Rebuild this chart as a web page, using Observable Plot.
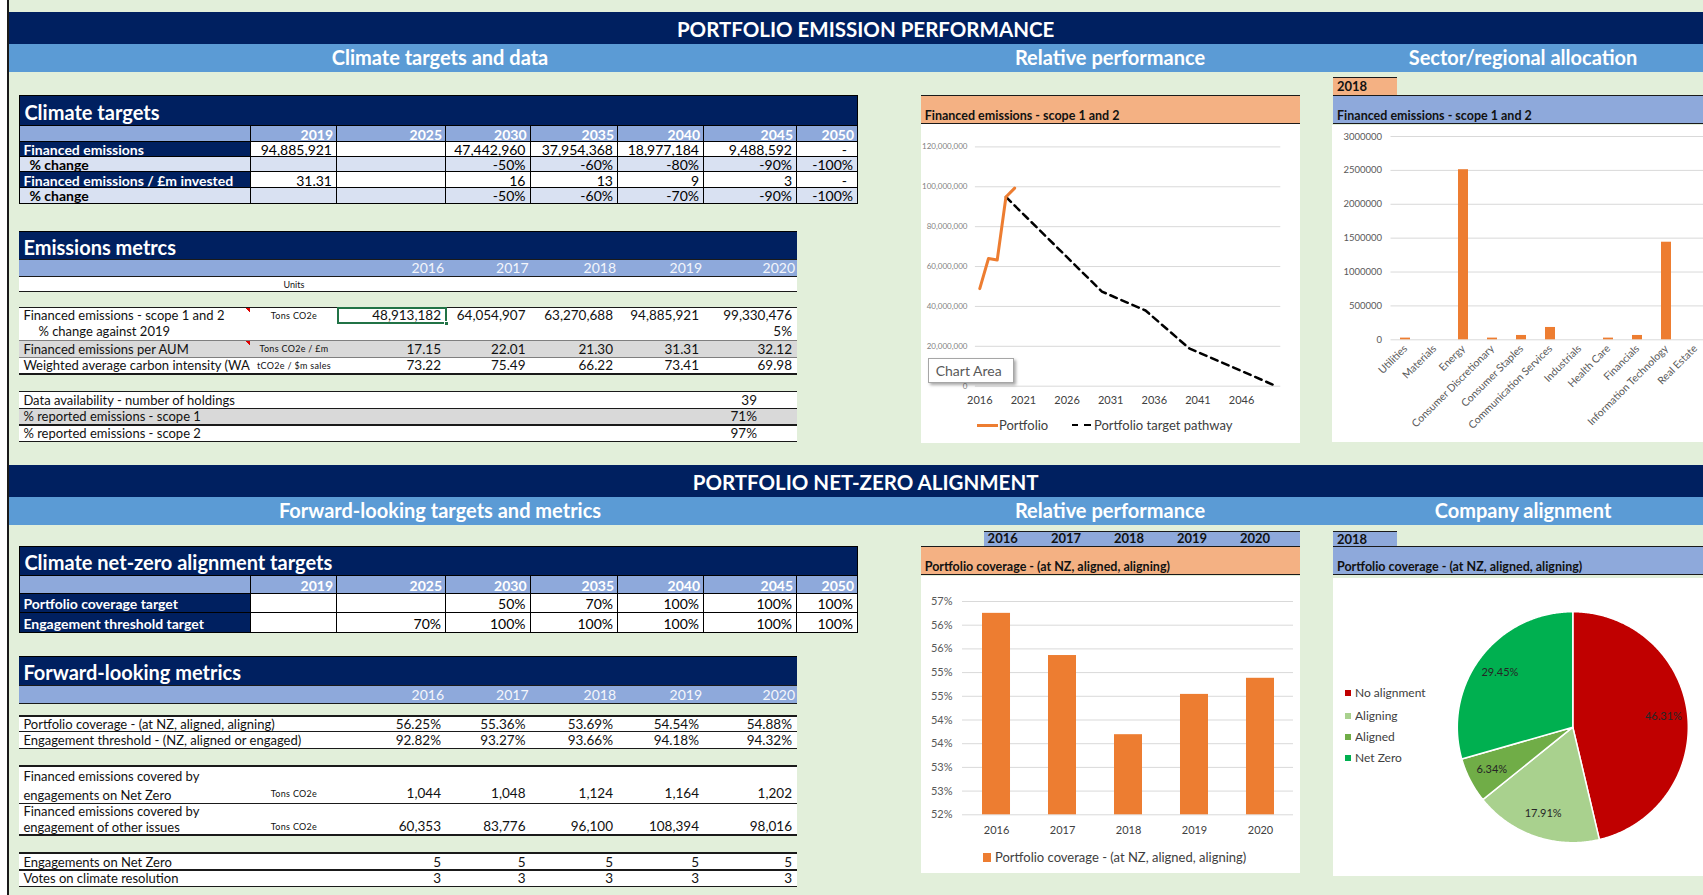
<!DOCTYPE html>
<html><head><meta charset="utf-8">
<script src="https://cdn.jsdelivr.net/npm/d3@7"></script>
<script src="https://cdn.jsdelivr.net/npm/@observablehq/plot@0.6"></script>
<style>
html,body{margin:0;padding:0;}
body{width:1703px;height:895px;overflow:hidden;background:#e2efda;position:relative;font-family:Lato,"Open Sans",sans-serif;}
.cell{position:absolute;box-sizing:border-box;white-space:pre;overflow:hidden;}
.chart{position:absolute;}
.chart svg{display:block;overflow:visible;max-width:none !important;}
</style></head><body>
<script>
// ---------------- DATA ----------------
const targetYears = ["2019","2025","2030","2035","2040","2045","2050"];
const targetFinanced = ["94,885,921","","47,442,960","37,954,368","18,977,184","9,488,592","-"];
const targetFinancedChange = ["","","-50%","-60%","-80%","-90%","-100%"];
const targetIntensity = ["31.31","","16","13","9","3","-"];
const targetIntensityChange = ["","","-50%","-60%","-70%","-90%","-100%"];

const metricYears = ["2016","2017","2018","2019","2020"];
const emFinanced = ["48,913,182","64,054,907","63,270,688","94,885,921","99,330,476"];
const emChange = ["","","","","5%"];
const emPerAUM = ["17.15","22.01","21.30","31.31","32.12"];
const emWACI = ["73.22","75.49","66.22","73.41","69.98"];
const dataAvailability = ["39","71%","97%"];

const nzCoverageTarget = ["","","50%","70%","100%","100%","100%"];
const nzEngagementTarget = ["","70%","100%","100%","100%","100%","100%"];

const flCoverage = ["56.25%","55.36%","53.69%","54.54%","54.88%"];
const flEngagement = ["92.82%","93.27%","93.66%","94.18%","94.32%"];
const flCoveredNZ = ["1,044","1,048","1,124","1,164","1,202"];
const flCoveredOther = ["60,353","83,776","96,100","108,394","98,016"];
const flEngagementsNZ = ["5","5","5","5","5"];
const flVotes = ["3","3","3","3","3"];

// line chart
const portfolioYears = [2016,2017,2018,2019,2020];
const portfolioEmissions = [48913182,64054907,63270688,94885921,99330476];
const pathwayYears = [2019,2030,2035,2040,2045,2050];
const pathwayEmissions = [94885921,47442960,37954368,18977184,9488592,0];
const lineXTicks = [2016,2021,2026,2031,2036,2041,2046];
const lineYTicks = [0,20000000,40000000,60000000,80000000,100000000,120000000];

// sector chart
const sectors = ["Utilities","Materials","Energy","Consumer Discretionary","Consumer Staples","Communication Services","Industrials","Health Care","Financials","Information Technology","Real Estate"];
const sectorEmissions = [25000,0,2510000,25000,64000,182000,0,25000,64000,1440000,0];
const sectorYTicks = [0,500000,1000000,1500000,2000000,2500000,3000000];

// coverage chart
const coverageYears = ["2016","2017","2018","2019","2020"];
const coverageValues = [56.25,55.36,53.69,54.54,54.88];
const coverageYTicks = [52,52.5,53,53.5,54,54.5,55,55.5,56,56.5];
const coverageBase = 52;

// pie
const alignNames = ["No alignment","Aligning","Aligned","Net Zero"];
const alignValues = [46.31,17.91,6.34,29.45];
const alignColors = ["#c00000","#a9d18e","#70ad47","#00b050"];

// ---------------- HELPERS ----------------
const NAVY="#002060", LBLUE="#5b9bd5", HBLUE="#8ea9db", LAV="#d9e1f2", ORANGEH="#f4b183", ORANGE="#ed7d31", GREY="#d9d9d9";
function box(x,y,w,h,style={},text){
  const d=document.createElement("div"); d.className="cell";
  Object.assign(d.style,{left:x+"px",top:y+"px",width:w+"px",height:h+"px"});
  for (const k in style) if (style[k]!=null) d.style[k]=style[k];
  if (text!=null) d.textContent=text;
  document.body.appendChild(d); return d;
}
function hline(x0,x1,y,t=1,c="#000"){ return box(x0,y-t/2,x1-x0,t,{background:c}); }

// left strip
box(0,0,7,895,{background:"#fff"});
box(6.5,0,2,895,{background:"#1a1a1a"});

// banners
function banner(top, title, subs){
  box(8.5,top,1703-8.5,32,{background:NAVY});
  box(865.6-300,top,600,32,{color:"#fff",fontWeight:700,fontSize:"20.5px",lineHeight:"34px",textAlign:"center",overflow:"visible"},title);
  box(8.5,top+32,1703-8.5,27.5,{background:LBLUE});
  subs.forEach(([t,cx])=>box(cx-175,top+32,350,27.5,{color:"#fff",fontWeight:700,fontSize:"20px",lineHeight:"27.5px",textAlign:"center",overflow:"visible"},t));
}
banner(12.3,"PORTFOLIO EMISSION PERFORMANCE",[["Climate targets and data",440],["Relative performance",1110],["Sector/regional allocation",1523]]);
banner(465,"PORTFOLIO NET-ZERO ALIGNMENT",[["Forward-looking targets and metrics",440],["Relative performance",1110],["Company alignment",1523]]);

// ---------------- TARGET TABLES ----------------
const tCols = [19.4,251,337,446,530.5,618,704,797,858];
function targetTable(top,title,titleH,headH,rows){
  const L=tCols[0], R=tCols[tCols.length-1];
  box(L,top,R-L,titleH,{background:NAVY,color:"#fff",fontWeight:700,fontSize:"20px",lineHeight:(titleH+2)+"px",paddingLeft:"4px",border:"1px solid #000",borderBottom:"none"},title);
  let y=top+titleH;
  for(let i=0;i<tCols.length-1;i++){
    box(tCols[i],y,tCols[i+1]-tCols[i],headH,{background:HBLUE,color:"#fff",fontWeight:700,fontSize:"14px",lineHeight:(headH+1)+"px",textAlign:"right",paddingRight:"3px",borderRight:"1px solid #000",borderTop:"1px solid #000",borderBottom:"1px solid #000",borderLeft:i===0?"1px solid #000":null},i===0?"":targetYears[i-1]);
  }
  y+=headH;
  rows.forEach(r=>{
    const navy=r.kind==="navy";
    box(tCols[0],y,tCols[1]-tCols[0],r.h,{background:navy?NAVY:LAV,color:navy?"#fff":"#000",fontWeight:700,fontSize:"14px",lineHeight:(r.h+1)+"px",paddingLeft:navy?"3px":"9px",borderLeft:"1px solid #000",borderRight:"1px solid #000",borderBottom:"1px solid #000"},r.label);
    r.values.forEach((v,i)=>{
      box(tCols[i+1],y,tCols[i+2]-tCols[i+1],r.h,{background:r.bg||"#fff",color:"#000",fontSize:"14px",lineHeight:(r.h+1)+"px",textAlign:"right",paddingRight:(v==="-"?"10px":"4px"),borderRight:"1px solid #000",borderBottom:"1px solid #000"},v);
    });
    y+=r.h;
  });
}
targetTable(95,"Climate targets",30,16.7,[
  {kind:"navy",label:"Financed emissions",values:targetFinanced,h:15},
  {kind:"lav",label:"% change",values:targetFinancedChange,h:15,bg:LAV},
  {kind:"navy",label:"Financed emissions / £m invested",values:targetIntensity,h:16.6},
  {kind:"lav",label:"% change",values:targetIntensityChange,h:15.7,bg:LAV}
]);
targetTable(546,"Climate net-zero alignment targets",29,19,[
  {kind:"navy",label:"Portfolio coverage target",values:nzCoverageTarget,h:18.7},
  {kind:"navy",label:"Engagement threshold target",values:nzEngagementTarget,h:20}
]);

// ---------------- METRICS TABLES ----------------
const mCols=[19.4,251,337,446,530.5,618,704,797];
const ML=mCols[0], MR=mCols[mCols.length-1];
function metricsHead(top,title,titleH,headH){
  box(ML,top,MR-ML,titleH,{background:NAVY,color:"#fff",fontWeight:700,fontSize:"20px",lineHeight:(titleH+2)+"px",paddingLeft:"4px",borderTop:"1px solid #000"},title);
  box(ML,top+titleH,MR-ML,headH,{background:HBLUE,borderTop:"1px solid #1a1a1a",borderBottom:"1.5px solid #1a1a1a"});
  metricYears.forEach((yr,i)=>box(mCols[i+2],top+titleH,mCols[i+3]-mCols[i+2],headH,{color:"#f4f6fb",fontSize:"14px",lineHeight:(headH+1)+"px",textAlign:"right",paddingRight:"2px"},yr));
  return top+titleH+headH;
}
function metricRow(y,h,r){
  box(ML,y,MR-ML,h,{background:r.bg||"#fff"});
  const labW = (r.unit ? mCols[1] : mCols[2]) - ML;
  if(r.twoLine){
    box(ML,y,labW,h,{fontSize:"13px",lineHeight:(h/2)+"px",paddingLeft:"4px",color:"#111",paddingTop:"1px"},r.label);
  } else {
    box(ML,y,labW,h,{fontSize:"13px",lineHeight:(h+1)+"px",paddingLeft:(r.indent||4)+"px",color:"#111"},r.label);
  }
  const lh = r.twoLine ? (h*1.5)+"px" : (h+1)+"px";
  if(r.unit) box(mCols[1],y,mCols[2]-mCols[1],h,{fontSize:"9px",letterSpacing:"0.3px",lineHeight:lh,textAlign:"center",color:"#111"},r.unit);
  (r.values||[]).forEach((v,i)=>box(mCols[i+2],y,mCols[i+3]-mCols[i+2],h,{fontSize:"13.5px",lineHeight:lh,textAlign:"right",paddingRight:(r.pad||5)+"px",color:"#111"},v));
}
// Emissions metrics
let y0 = metricsHead(230.7,"Emissions metrcs",28.6,17.4);
box(ML,y0,MR-ML,15,{background:"#fff"});
box(mCols[1],y0,mCols[2]-mCols[1],15,{fontSize:"9px",lineHeight:"16px",textAlign:"center",color:"#111"},"Units");
hline(ML,MR,291.7,1.5,"#1a1a1a");
metricRow(307.3,16,{label:"Financed emissions - scope 1 and 2",unit:"Tons CO2e",values:emFinanced});
metricRow(323.3,16.7,{label:"% change against 2019",indent:19,values:emChange});
metricRow(340,17.3,{label:"Financed emissions per AUM",unit:"Tons CO2e / £m",values:emPerAUM,bg:GREY});
metricRow(357.3,16.7,{label:"Weighted average carbon intensity (WA",unit:"tCO2e / $m sales",values:emWACI});
hline(ML,MR,307.3,1.5,"#1a1a1a"); hline(ML,MR,340,1,"#7f7f7f"); hline(ML,MR,357.3,1,"#7f7f7f"); hline(ML,MR,374,1.5,"#1a1a1a");
// selected cell & comment markers
box(337,307,110,17,{border:"2px solid #217346"});
box(444,321,5,5,{background:"#217346",border:"1px solid #fff"});
[[246,308],[246,341]].forEach(([x,y])=>box(x,y,4,4,{background:"linear-gradient(45deg,transparent 50%,#e00000 50%)"}));
// Data availability
const daLabels=["Data availability - number of holdings","% reported emissions - scope 1","% reported emissions - scope 2"];
[[391.7,16.6,"#fff"],[408.3,16.7,GREY],[425,16.7,"#fff"]].forEach(([y,h,bg],i)=>{
  metricRow(y,h,{label:daLabels[i],bg,values:["","","","",dataAvailability[i]],pad:40});
});
[391.7,408.3,425,441.7].forEach(y=>hline(ML,MR,y,1.3,"#1a1a1a"));

// Forward-looking metrics
y0 = metricsHead(656,"Forward-looking metrics",29,19.3);
metricRow(716,15.7,{label:"Portfolio coverage - (at NZ, aligned, aligning)",values:flCoverage});
metricRow(731.7,16.6,{label:"Engagement threshold - (NZ, aligned or engaged)",values:flEngagement});
metricRow(766,37.3,{twoLine:true,label:"Financed emissions covered by\nengagements on Net Zero",unit:"Tons CO2e",values:flCoveredNZ});
metricRow(803.3,31.7,{twoLine:true,label:"Financed emissions covered by\nengagement of other issues",unit:"Tons CO2e",values:flCoveredOther});
metricRow(853,17,{label:"Engagements on Net Zero",values:flEngagementsNZ});
metricRow(870,16.7,{label:"Votes on climate resolution",values:flVotes});
[716,731.7,748.3,766,803.3,835,853,870,886.7].forEach(y=>hline(ML,MR,y,1.3,"#1a1a1a"));

// ---------------- PANELS ----------------
function header(x,y,w,h,bg,text){
  box(x,y,w,h,{background:bg,borderTop:"1.5px solid #1a1a1a",borderBottom:"1.5px solid #1a1a1a",fontWeight:700,fontSize:"12.5px",color:"#111",lineHeight:(h*1.35)+"px",paddingLeft:"4px"},text);
}
// line chart panel
header(920.7,95,379.3,29.3,ORANGEH,"Financed emissions - scope 1 and 2");
box(920.7,124.3,379.3,319,{background:"#fff"});
// sector panel
box(1333,77.3,64,17.7,{background:ORANGEH,borderTop:"1.5px solid #1a1a1a",fontWeight:700,fontSize:"13px",lineHeight:"17px",paddingLeft:"4px",color:"#111",overflow:"visible"},"2018");
header(1333,95,370,29.3,HBLUE,"Financed emissions - scope 1 and 2");
box(1332,125,371,317,{background:"#fff"});
// coverage panel
box(984,530.7,316,15.3,{background:HBLUE,borderTop:"1.5px solid #1a1a1a"});
coverageYears.forEach((t,i)=>box([1002.7,1066,1129,1192,1255][i]-30,530.7,60,15.3,{fontWeight:700,fontSize:"13px",lineHeight:"15px",textAlign:"center",color:"#111",overflow:"visible"},t));
header(920.7,546,379.3,29.3,ORANGEH,"Portfolio coverage - (at NZ, aligned, aligning)");
box(920.7,576,379.3,296.7,{background:"#fff"});
// alignment panel
box(1333,530.7,64,15.3,{background:HBLUE,borderTop:"1.5px solid #1a1a1a",fontWeight:700,fontSize:"13px",lineHeight:"15px",paddingLeft:"4px",color:"#111",overflow:"visible"},"2018");
header(1333,546,370,29.3,HBLUE,"Portfolio coverage - (at NZ, aligned, aligning)");
box(1333,578,370,298,{background:"#fff"});

function place(svg,x,y,w){ const d=document.createElement("div"); d.className="chart"; d.style.left=x+"px"; d.style.top=y+"px"; d.style.width=w+"px"; d.appendChild(svg); document.body.appendChild(d); }

// ---------------- LINE CHART ----------------
const portfolioData = portfolioYears.map((yr,i)=>({year:yr,value:portfolioEmissions[i]}));
const pathwayData = pathwayYears.map((yr,i)=>({year:yr,value:pathwayEmissions[i]}));
place(Plot.plot({
  width:379.3,height:318.7,marginLeft:53.9,marginRight:20,marginTop:22.4,marginBottom:57,
  style:{fontFamily:"Lato",background:"transparent",color:"#595959",overflow:"visible",maxWidth:"none"},
  x:{domain:[2015.5,2050.5],label:null},
  y:{domain:[0,120000000],label:null},
  marks:[
    Plot.gridY(lineYTicks,{stroke:GREY,strokeOpacity:1,strokeWidth:1}),
    Plot.axisY(lineYTicks,{tickSize:0,tickPadding:8,fontSize:8,fill:"#7f7f7f",tickFormat:d3.format(","),label:null}),
    Plot.axisX(lineXTicks,{tickSize:0,tickPadding:10,fontSize:11,fill:"#404040",tickFormat:d=>String(d),label:null}),
    Plot.line(pathwayData,{x:"year",y:"value",stroke:"#000",strokeWidth:2.5,strokeDasharray:"7,5"}),
    Plot.line(portfolioData,{x:"year",y:"value",stroke:ORANGE,strokeWidth:3})
  ]
}),920.7,124.3,379.3);
// legend
box(977,423.5,21,3,{background:ORANGE});
box(999,416,80,18,{fontSize:"13px",lineHeight:"18px",color:"#404040"},"Portfolio");
box(1072,423.5,6,2.5,{background:"#000"}); box(1084,423.5,7,2.5,{background:"#000"});
box(1094,416,170,18,{fontSize:"13px",lineHeight:"18px",color:"#404040"},"Portfolio target pathway");
// Chart Area tooltip
box(927.7,357.7,86.3,25,{background:"#fff",border:"1px solid #a6a6a6",boxShadow:"2px 2px 3px rgba(0,0,0,0.35)",fontSize:"14px",lineHeight:"23px",paddingLeft:"7px",color:"#595959"},"Chart Area");

// ---------------- SECTOR CHART ----------------
const sectorData = sectors.map((s,i)=>({sector:s,value:sectorEmissions[i]}));
place(Plot.plot({
  width:390,height:317,marginLeft:58.5,marginRight:11.7,marginTop:11,marginBottom:102.7,
  style:{fontFamily:"Lato",background:"transparent",color:"#595959",overflow:"visible",maxWidth:"none"},
  x:{type:"band",domain:sectors,paddingInner:0.65,paddingOuter:0.325,label:null},
  y:{domain:[0,3000000],label:null},
  marks:[
    Plot.gridY(sectorYTicks,{stroke:GREY,strokeOpacity:1,strokeWidth:1}),
    Plot.axisY(sectorYTicks,{tickSize:0,tickPadding:9,fontSize:9.5,fill:"#595959",tickFormat:d=>String(d),label:null}),
    Plot.axisX({tickSize:0,tickPadding:7,tickRotate:-45,fontSize:10.5,fill:"#595959",label:null}),
    Plot.barY(sectorData,{x:"sector",y:"value",fill:ORANGE})
  ]
}),1332,125,390);

// ---------------- COVERAGE CHART ----------------
const coverageData = coverageYears.map((yr,i)=>({year:yr,value:coverageValues[i]}));
place(Plot.plot({
  width:379.3,height:296.7,marginLeft:41,marginRight:7.3,marginTop:25,marginBottom:58.4,
  style:{fontFamily:"Lato",background:"transparent",color:"#595959",overflow:"visible",maxWidth:"none"},
  x:{type:"band",domain:coverageYears,paddingInner:0.58,paddingOuter:0.29,label:null},
  y:{domain:[coverageBase,56.5],label:null},
  marks:[
    Plot.gridY(coverageYTicks,{stroke:GREY,strokeOpacity:1,strokeWidth:1}),
    Plot.axisY(coverageYTicks,{tickSize:0,tickPadding:10,fontSize:11,fill:"#595959",tickFormat:d=>Math.round(d)+"%",label:null}),
    Plot.axisX({tickSize:0,tickPadding:11,fontSize:11,fill:"#404040",label:null}),
    Plot.barY(coverageData,{x:"year",y1:coverageBase,y2:"value",fill:ORANGE})
  ]
}),920.7,576,379.3);
box(983,853,8,8.7,{background:ORANGE});
box(995,848,260,18,{fontSize:"13px",lineHeight:"18px",color:"#404040"},"Portfolio coverage - (at NZ, aligned, aligning)");

// ---------------- PIE ----------------
const pieAngles = d3.pie().sort(null).value(d=>d)(alignValues);
const slicePts = [];
const pieLabelPts = [];
alignNames.forEach((name,i)=>{
  const a0 = pieAngles[i].startAngle, a1 = pieAngles[i].endAngle;
  slicePts.push({name,x:0,y:0});
  const n = Math.max(2,Math.ceil((a1-a0)/0.01));
  for(let k=0;k<=n;k++){ const a=a0+(a1-a0)*k/n; slicePts.push({name,x:Math.sin(a),y:Math.cos(a)}); }
  const am=(a0+a1)/2;
  pieLabelPts.push({x:0.79*Math.sin(am),y:0.79*Math.cos(am),text:alignValues[i].toFixed(2)+"%"});
});
place(Plot.plot({
  width:370,height:298,marginLeft:123.8,marginRight:15.2,marginTop:33.2,marginBottom:33.8,
  style:{fontFamily:"Lato",background:"transparent",overflow:"visible",maxWidth:"none"},
  x:{domain:[-1,1],axis:null},
  y:{domain:[-1,1],axis:null},
  color:{domain:alignNames,range:alignColors},
  marks:[
    Plot.line(slicePts,{x:"x",y:"y",z:"name",fill:"name",stroke:"#fff",strokeWidth:1.5,curve:"linear-closed"}),
    Plot.text(pieLabelPts,{x:"x",y:"y",text:"text",fontSize:11,fill:"#262626"})
  ]
}),1333,578,370);
// pie legend
alignNames.forEach((n,i)=>{
  const cy=[693.3,715.7,737.3,758.3][i];
  box(1345,cy-3,6,6,{background:alignColors[i]});
  box(1355,cy-9,120,18,{fontSize:"12px",lineHeight:"18px",color:"#404040"},n);
});
</script>
</body></html>
